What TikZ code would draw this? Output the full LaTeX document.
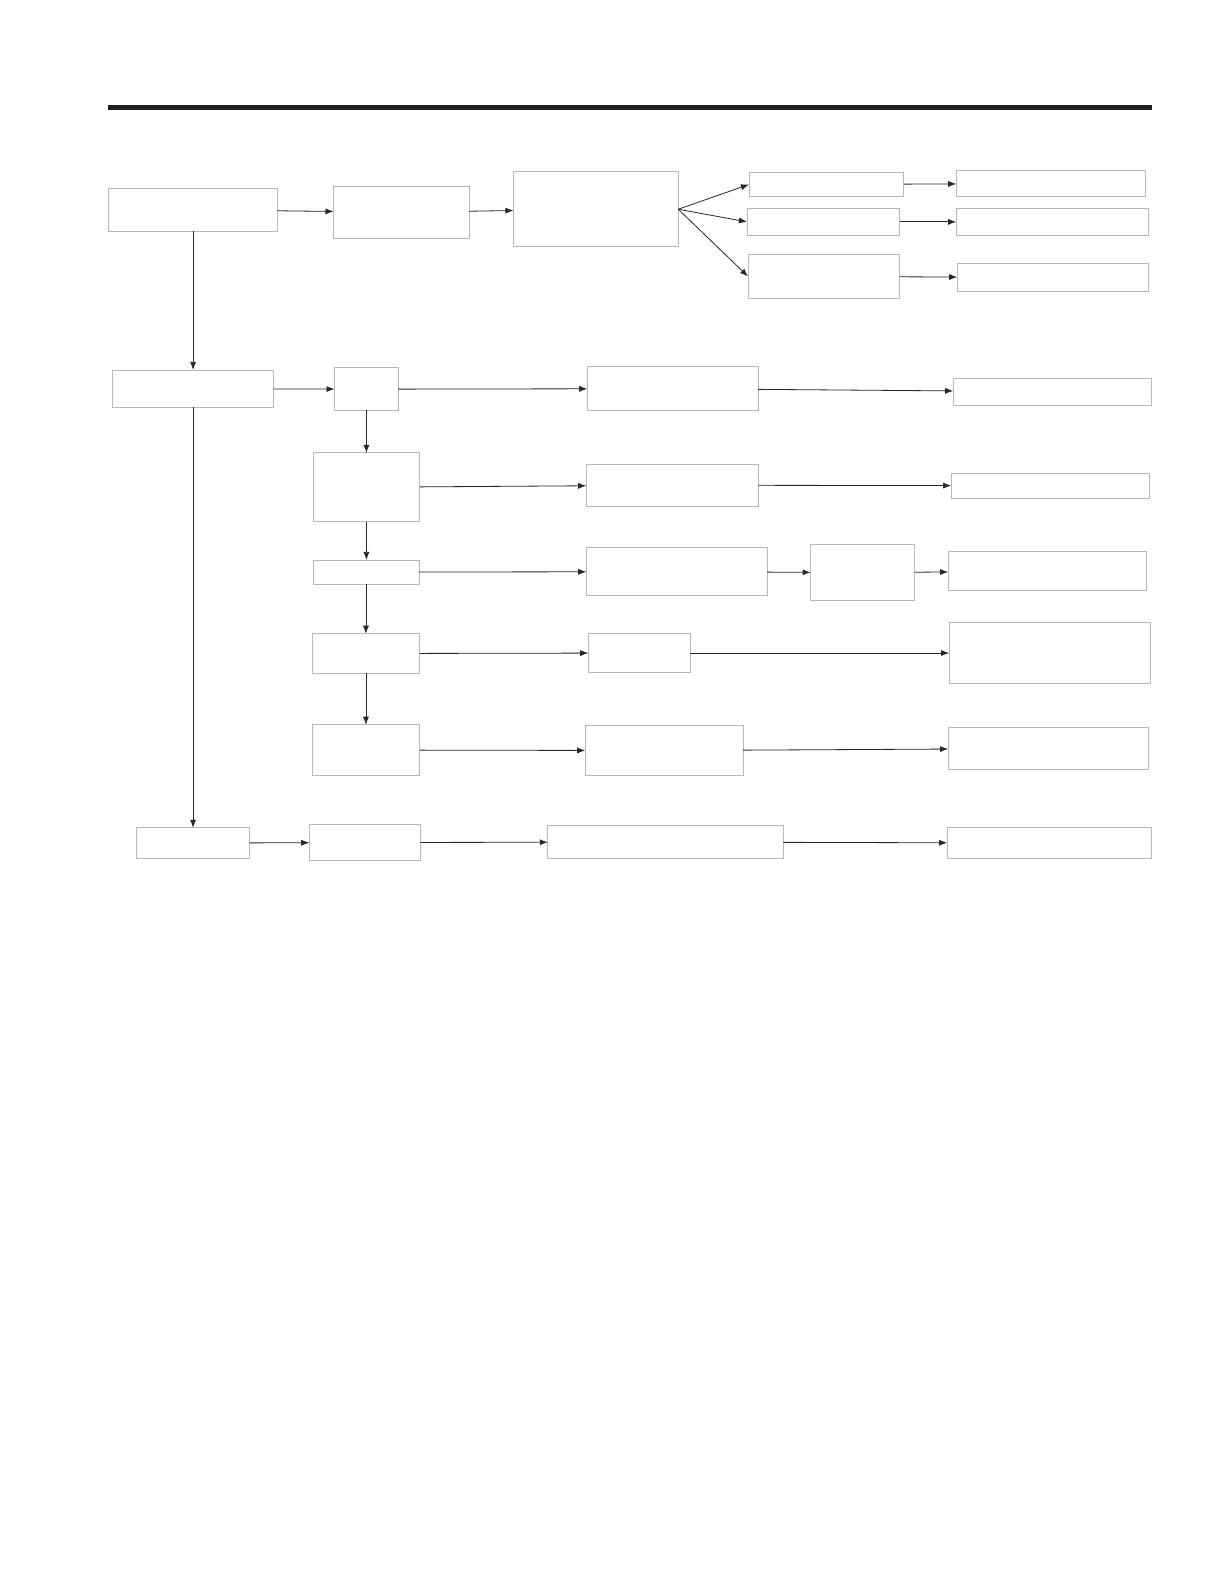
\documentclass[tikz,border=0pt]{standalone}
\usepackage{tikz}
\usetikzlibrary{positioning,arrows.meta}
\definecolor{boxgray}{RGB}{185,185,185}
\definecolor{linegray}{RGB}{40,40,40}

\tikzset{
    pbox/.style={rectangle, draw=boxgray, line width=0.9pt, fill=white, inner sep=0pt, outer sep=0pt},
    flow/.style={->, draw=linegray, line width=0.8pt}
}

\begin{document}
\begin{tikzpicture}[x=1pt, y=-1pt, >={Latex[length=8pt,width=6pt]}]
    \useasboundingbox (0,0) rectangle (1212,1568);

    % header rule
    \fill[black!88] (107,104) rectangle (1140,108.5);

    % first row
    \node[pbox, minimum width=167pt, minimum height=43pt] (root) at (191,207.5) {};
    \node[pbox, minimum width=134pt, minimum height=52pt] (pre) at (397,210) {};
    \node[pbox, minimum width=163pt, minimum height=74pt] (split) at (589.5,207) {};
    \node[pbox, minimum width=153pt, minimum height=23pt] (opta) at (817.5,182.5) {};
    \node[pbox, minimum width=151pt, minimum height=27pt] (optb) at (814.5,219.5) {};
    \node[pbox, minimum width=150pt, minimum height=43pt] (optc) at (815,273.5) {};
    \node[pbox, minimum width=187pt, minimum height=25pt] (outa) at (1039.5,181.5) {};
    \node[pbox, minimum width=190pt, minimum height=27pt] (outb) at (1041,219.5) {};
    \node[pbox, minimum width=189pt, minimum height=27pt] (outc) at (1041.5,274.5) {};

    % second level
    \node[pbox, minimum width=159pt, minimum height=37pt] (branch) at (191,384.5) {};
    \node[pbox, minimum width=63pt, minimum height=42pt] (stepa) at (362.5,385) {};
    \node[pbox, minimum width=169pt, minimum height=43pt] (taska) at (665.5,384.5) {};
    \node[pbox, minimum width=196pt, minimum height=27pt] (resa) at (1041,387.5) {};

    \node[pbox, minimum width=105pt, minimum height=68pt] (stepb) at (362.5,482) {};
    \node[pbox, minimum width=170pt, minimum height=42pt] (taskb) at (665,480) {};
    \node[pbox, minimum width=196pt, minimum height=25pt] (resb) at (1039,480.5) {};

    \node[pbox, minimum width=104pt, minimum height=24pt] (stepc) at (362.5,566) {};
    \node[pbox, minimum width=179pt, minimum height=47pt] (taskc) at (669.5,565.5) {};
    \node[pbox, minimum width=103pt, minimum height=55pt] (checkc) at (853.5,566.5) {};
    \node[pbox, minimum width=196pt, minimum height=38pt] (resc) at (1036,565) {};

    \node[pbox, minimum width=106pt, minimum height=39pt] (stepd) at (362,646.5) {};
    \node[pbox, minimum width=101pt, minimum height=38pt] (taskd) at (632.5,646) {};
    \node[pbox, minimum width=199pt, minimum height=60pt] (resd) at (1038.5,646) {};

    \node[pbox, minimum width=106pt, minimum height=50pt] (stepe) at (362,742) {};
    \node[pbox, minimum width=156pt, minimum height=49pt] (taske) at (657,742.5) {};
    \node[pbox, minimum width=198pt, minimum height=41pt] (rese) at (1037,740.5) {};

    % last row
    \node[pbox, minimum width=112pt, minimum height=30pt] (tail) at (191,834) {};
    \node[pbox, minimum width=110pt, minimum height=35pt] (stepf) at (361,833.5) {};
    \node[pbox, minimum width=233pt, minimum height=32pt] (taskf) at (658.5,833) {};
    \node[pbox, minimum width=202pt, minimum height=30pt] (resf) at (1038,834) {};

    % connectors
    \draw[flow] (root) -- (pre);
    \draw[flow] (pre) -- (split);
    \draw[flow] (split.east) -- (opta.west);
    \draw[flow] (split.east) -- (optb.west);
    \draw[flow] (split.east) -- (optc.west);
    \draw[flow] (opta) -- (outa);
    \draw[flow] (optb) -- (outb);
    \draw[flow] (optc) -- (outc);

    \draw[flow] (root) -- (branch);
    \draw[flow] (branch) -- (tail);
    \draw[flow] (branch) -- (stepa);
    \draw[flow] (stepa) -- (taska);
    \draw[flow] (taska) -- (resa);

    \draw[flow] (stepa) -- (stepb);
    \draw[flow] (stepb) -- (taskb);
    \draw[flow] (taskb) -- (resb);

    \draw[flow] (stepb) -- (stepc);
    \draw[flow] (stepc) -- (taskc);
    \draw[flow] (taskc) -- (checkc);
    \draw[flow] (checkc) -- (resc);

    \draw[flow] (stepc.south -| stepd) -- (stepd);
    \draw[flow] (stepd) -- (taskd);
    \draw[flow] (taskd) -- (resd);

    \draw[flow] (stepd) -- (stepe);
    \draw[flow] (stepe) -- (taske);
    \draw[flow] (taske) -- (rese);

    \draw[flow] (tail) -- (stepf);
    \draw[flow] (stepf) -- (taskf);
    \draw[flow] (taskf) -- (resf);
\end{tikzpicture}
\end{document}
